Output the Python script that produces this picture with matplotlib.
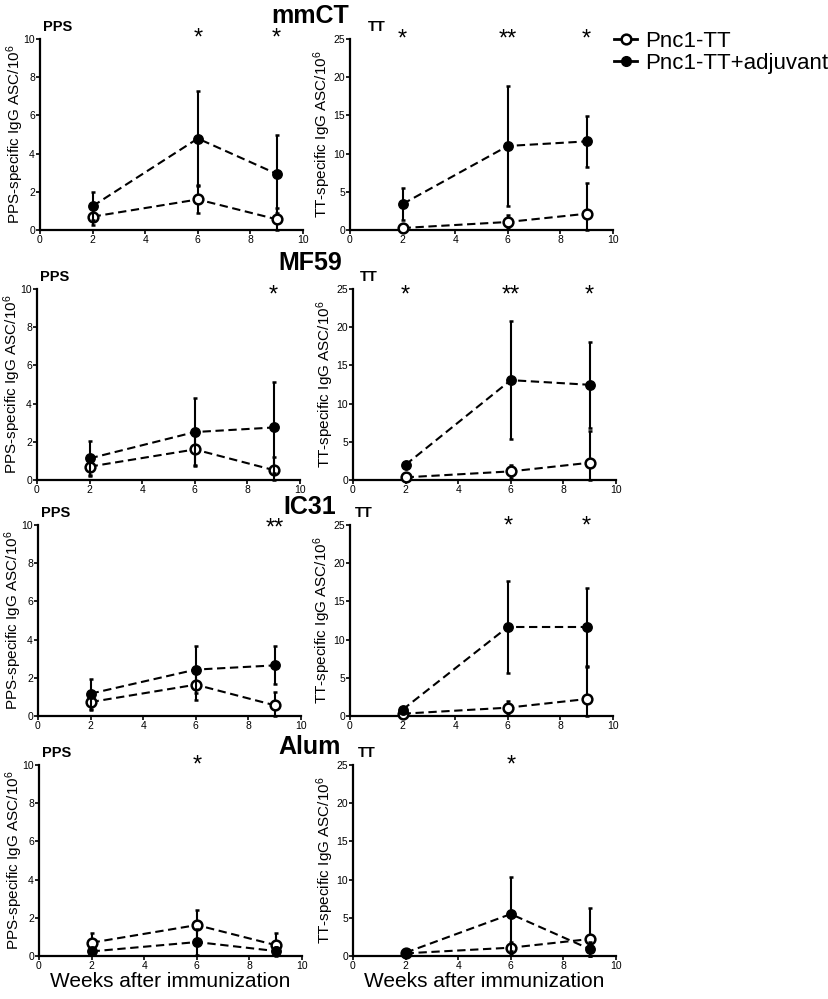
import numpy as np
import matplotlib
matplotlib.use("Agg")
import matplotlib.pyplot as plt
from matplotlib.lines import Line2D

plt.rcParams['font.family'] = ['Liberation Sans', 'DejaVu Sans']
plt.rcParams['mathtext.fontset'] = 'custom'
plt.rcParams['mathtext.rm'] = 'Liberation Sans'
plt.rcParams['mathtext.it'] = 'Liberation Sans:italic'
plt.rcParams['mathtext.bf'] = 'Liberation Sans:bold'

weeks = [2, 6, 9]
adjuvants = ['mmCT', 'MF59', 'IC31', 'Alum']

# PPS-specific (Pnc1-TT alone / with adjuvant), mean and error
pps_tt = {
    'mmCT': [0.70, 1.60, 0.56],
    'MF59': [0.70, 1.60, 0.52],
    'IC31': [0.73, 1.64, 0.56],
    'Alum': [0.70, 1.62, 0.57],
}
pps_tt_err = {
    'mmCT': [0.45, 0.73, 0.60],
    'MF59': [0.49, 0.80, 0.66],
    'IC31': [0.43, 0.78, 0.68],
    'Alum': [0.48, 0.77, 0.65],
}
pps_adj = {
    'mmCT': [1.25, 4.79, 2.94],
    'MF59': [1.13, 2.51, 2.75],
    'IC31': [1.17, 2.43, 2.65],
    'Alum': [0.24, 0.73, 0.26],
}
pps_adj_err = {
    'mmCT': [0.73, 2.47, 2.03],
    'MF59': [0.89, 1.76, 2.40],
    'IC31': [0.78, 1.25, 1.00],
    'Alum': [0.20, 0.68, 0.20],
}

# TT-specific
tt_tt = {
    'mmCT': [0.26, 1.05, 2.13],
    'MF59': [0.35, 1.13, 2.26],
    'IC31': [0.30, 1.09, 2.22],
    'Alum': [0.35, 1.09, 2.22],
}
tt_tt_err = {
    'mmCT': [0.30, 0.85, 4.05],
    'MF59': [0.30, 0.87, 4.10],
    'IC31': [0.20, 0.87, 4.20],
    'Alum': [0.20, 0.78, 4.10],
}
tt_adj = {
    'mmCT': [3.40, 11.00, 11.60],
    'MF59': [2.00, 13.07, 12.46],
    'IC31': [0.83, 11.65, 11.65],
    'Alum': [0.44, 5.49, 0.91],
}
tt_adj_err = {
    'mmCT': [2.10, 7.80, 3.30],
    'MF59': [0.30, 7.75, 5.66],
    'IC31': [0.20, 6.00, 5.10],
    'Alum': [0.20, 4.80, 0.90],
}

# significance marks: (week, label)
pps_stars = {
    'mmCT': [(6, '*'), (9, '*')],
    'MF59': [(9, '*')],
    'IC31': [(9, '**')],
    'Alum': [(6, '*')],
}
tt_stars = {
    'mmCT': [(2, '*'), (6, '**'), (9, '*')],
    'MF59': [(2, '*'), (6, '**'), (9, '*')],
    'IC31': [(6, '*'), (9, '*')],
    'Alum': [(6, '*')],
}

W, H = 829, 999
fig = plt.figure(figsize=(W / 100, H / 100), dpi=100)

row_tops = [39, 289, 525, 765]
row_h = 191
left_x = [40, 37, 38, 39]
right_x = [350, 353, 350, 353]
ax_w = 263
star_off = {  # px above axes top for stars
    'mmCT': (4, 3), 'MF59': (-3, -3), 'IC31': (0, 2), 'Alum': (3, 3)}
tt_label_off = [18, 7, 5, 5]
title_y = [16, 263, 507, 747]


def style_axes(ax, ymax, ystep):
    ax.set_xlim(0, 10)
    ax.set_ylim(0, ymax)
    ax.set_xticks(np.arange(0, 11, 2))
    ax.set_yticks(np.arange(0, ymax + 0.1, ystep))
    for s in ['top', 'right']:
        ax.spines[s].set_visible(False)
    for s in ['left', 'bottom']:
        ax.spines[s].set_linewidth(1.6)
    ax.tick_params(direction='out', length=3, width=1.2, labelsize=7.5, pad=0.6)
    ax.patch.set_alpha(0)


def draw_series(ax, y, err, filled):
    y = np.array(y)
    err = np.array(err)
    lower = np.minimum(err, y)
    ax.errorbar(weeks, y, yerr=[lower, err], fmt='none', ecolor='black',
                elinewidth=1.5, capsize=1.5, capthick=1.8, clip_on=False,
                zorder=3 if filled else 2)
    ax.plot(weeks, y, color='black', lw=1.5, ls=(0, (4, 2.2)), clip_on=False,
            zorder=2)
    if filled:
        ax.plot(weeks, y, 'o', ms=6.8, mfc='black', mec='black', mew=1,
                clip_on=False, zorder=4)
    else:
        ax.plot(weeks, y, 'o', ms=7, mfc='white', mec='black', mew=1.8,
                clip_on=False, zorder=3)


def add_stars(ax, stars, off_px):
    for wk, lab in stars:
        ax.annotate(lab, xy=(wk, 1), xycoords=('data', 'axes fraction'),
                    xytext=(0, off_px * 0.72 - 2.4), textcoords='offset points',
                    ha='center', va='center', fontsize=17)


for i, adj in enumerate(adjuvants):
    bottom = 1 - (row_tops[i] + row_h) / H
    axl = fig.add_axes([left_x[i] / W, bottom, ax_w / W, row_h / H])
    axr = fig.add_axes([right_x[i] / W, bottom, ax_w / W, row_h / H])

    style_axes(axl, 10, 2)
    style_axes(axr, 25, 5)

    draw_series(axl, pps_tt[adj], pps_tt_err[adj], False)
    draw_series(axl, pps_adj[adj], pps_adj_err[adj], True)
    draw_series(axr, tt_tt[adj], tt_tt_err[adj], False)
    draw_series(axr, tt_adj[adj], tt_adj_err[adj], True)

    axl.set_ylabel('PPS-specific IgG ASC/10$^6$', fontsize=11, labelpad=-2)
    axr.set_ylabel('TT-specific IgG ASC/10$^6$', fontsize=11, labelpad=0)

    axl.text(3 / ax_w, 1 + 12 / row_h, 'PPS', transform=axl.transAxes,
             ha='left', va='center', fontsize=10.5, fontweight='bold')
    axr.text(tt_label_off[i] / ax_w, 1 + 12 / row_h, 'TT', transform=axr.transAxes,
             ha='left', va='center', fontsize=10.5, fontweight='bold')

    add_stars(axl, pps_stars[adj], star_off[adj][0])
    add_stars(axr, tt_stars[adj], star_off[adj][1])

    fig.text(310 / W, 1 - title_y[i] / H, adj, ha='center', va='center',
             fontsize=18, fontweight='bold')

    if i == len(adjuvants) - 1:
        axl.set_xlabel('Weeks after immunization', fontsize=15, labelpad=0.8)
        axr.set_xlabel('Weeks after immunization', fontsize=15, labelpad=0.8)

handles = [
    Line2D([], [], color='black', lw=2, marker='o', ms=7, mfc='white', mec='black', mew=1.8),
    Line2D([], [], color='black', lw=2, marker='o', ms=7, mfc='black', mec='black'),
]
fig.legend(handles, ['Pnc1-TT', 'Pnc1-TT+adjuvant'], loc='upper left',
           bbox_to_anchor=(614 / W, 1 - 31 / H), frameon=False, fontsize=16,
           handlelength=1.05, handletextpad=0.35, labelspacing=0.03,
           borderpad=0, borderaxespad=0)

fig.savefig('out.png', dpi=100)
